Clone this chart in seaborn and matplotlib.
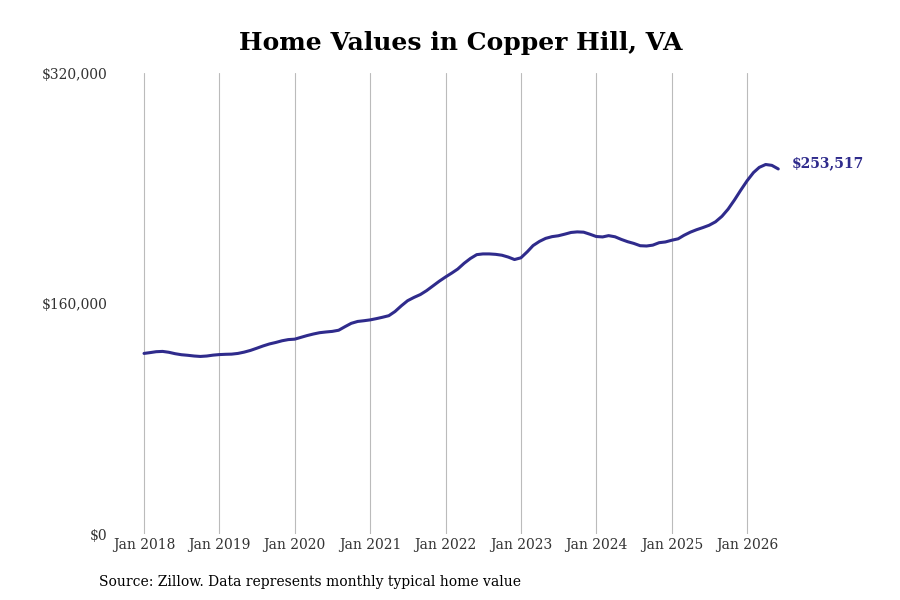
import pandas as pd
import matplotlib
matplotlib.use("Agg")
import matplotlib.pyplot as plt
import matplotlib.dates as mdates
import seaborn as sns

# --- data (monthly typical home value) ---
START = "2018-01-01"
values_2018 = [125400, 126000, 126600, 126800, 126200, 125200, 124500, 124100, 123600, 123300, 123600, 124200]
values_2019 = [124600, 124800, 124900, 125400, 126300, 127500, 129000, 130600, 132000, 133000, 134200, 135000]
values_2020 = [135300, 136600, 137800, 138900, 139800, 140300, 140700, 141500, 144000, 146300, 147600, 148100]
values_2021 = [148700, 149600, 150500, 151600, 154500, 158500, 162000, 164300, 166300, 169000, 172300, 175500]
values_2022 = [178500, 181300, 184000, 188000, 191300, 194000, 194500, 194500, 194200, 193600, 192300, 190600]
values_2023 = [191800, 196000, 200300, 203200, 205300, 206500, 207100, 208200, 209400, 209800, 209600, 208200]
values_2024 = [206600, 206300, 207200, 206400, 204600, 203000, 201800, 200200, 200000, 200600, 202300, 202800]
values_2025 = [204000, 205000, 207400, 209600, 211300, 212800, 214400, 216800, 220600, 225600, 232000, 238700]
values_2026 = [245300, 251000, 254600, 256600, 256000, 253517]

tick_years = list(range(2018, 2027))
y_ticks = [0, 160000, 320000]

TITLE = "Home Values in Copper Hill, VA"
SOURCE = "Source: Zillow. Data represents monthly typical home value"
LINE_COLOR = "#2f2b8c"

values = (values_2018 + values_2019 + values_2020 + values_2021 + values_2022
          + values_2023 + values_2024 + values_2025 + values_2026)
df = pd.DataFrame({
    "date": pd.date_range(START, periods=len(values), freq="MS"),
    "value": values,
})

sns.set_theme(style="white")
plt.rcParams["font.family"] = ["DejaVu Serif"]

fig = plt.figure(figsize=(9, 6), dpi=100)
ax = fig.add_axes([0.13, 0.11, 0.74, 0.768])

sns.lineplot(data=df, x="date", y="value", color=LINE_COLOR, linewidth=2.2, ax=ax)

ax.set_xlim(pd.Timestamp("2017-08-23"), pd.Timestamp("2026-06-24"))
ax.set_ylim(0, 320000)

ax.set_xticks([pd.Timestamp(f"{y}-01-01") for y in tick_years])
ax.xaxis.set_major_formatter(mdates.DateFormatter("Jan %Y"))
ax.set_yticks(y_ticks)
ax.set_yticklabels([f"${v:,.0f}" for v in y_ticks])

ax.tick_params(axis="y", length=0, pad=7, labelsize=10, labelcolor="#333333")
ax.tick_params(axis="x", length=0, pad=3, labelsize=10, labelcolor="#333333")

ax.grid(axis="x", color="#bbbbbb", linewidth=0.8)
ax.grid(axis="y", visible=False)
for s in ax.spines.values():
    s.set_visible(False)

ax.set_xlabel("")
ax.set_ylabel("")

last = df.iloc[-1]
ax.annotate(f"${last['value']:,.0f}", xy=(last["date"], last["value"]),
            xytext=(10, 4), textcoords="offset points",
            ha="left", va="center", fontsize=10, fontweight="bold",
            color=LINE_COLOR, annotation_clip=False)

fig.text(461 / 900, 1 - 43 / 600, TITLE, ha="center", va="center",
         fontsize=18, fontweight="bold", color="black")
fig.text(99 / 900, 1 - 582 / 600, SOURCE, ha="left", va="center",
         fontsize=10, color="black")

fig.savefig("out.png", dpi=100)
